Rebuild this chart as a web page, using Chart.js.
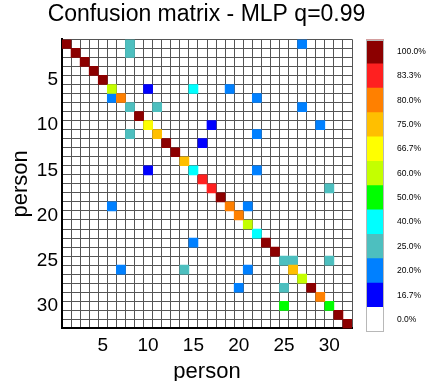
<!DOCTYPE html>
<html>
<head>
<meta charset="utf-8">
<script src="https://cdn.jsdelivr.net/npm/chart.js@4.4.1/dist/chart.umd.min.js"></script>
<style>
html,body{margin:0;padding:0;background:#fff;}
#wrap{position:relative;width:429px;height:381px;}
#matrix{position:absolute;left:0;top:0;}
#colorbar{position:absolute;left:355px;top:0;}
</style>
</head>
<body>
<div id="wrap">
<canvas id="matrix" width="413" height="381"></canvas>
<canvas id="colorbar" width="74" height="381"></canvas>
</div>
<script>
// people (rows = true, columns = predicted)
var people = ['1','2','3','4','5','6','7','8','9','10','11','12','13','14','15','16',
  '17','18','19','20','21','22','23','24','25','26','27','28','29','30','31','32'];

// colour scale levels
var levels = [100, 83.3, 80, 75, 66.7, 60, 50, 40, 25, 20, 16.7, 0];
var levelLabels = ['100.0%','83.3%','80.0%','75.0%','66.7%','60.0%','50.0%','40.0%','25.0%','20.0%','16.7%','0.0%'];
var levelColors = ['#8c0000','#ff2020','#ff8000','#ffbf00','#ffff00','#c4ff00','#00ff00','#00ffff','#4dbfbf','#0080ff','#0000ff','#ffffff'];
var barUnits = [1,1,1,1,1,1,1,1,1,1,1,1];

// non-zero cells of the matrix
var cellRow = [1,1,1, 2,2, 3, 4, 5, 6,6,6,6, 7,7,7, 8,8,8, 9, 10,10,10, 11,11,11, 12,12, 13, 14,
  15,15,15, 16, 17,17, 18, 19,19,19, 20, 21, 22, 23,23, 24, 25,25,25, 26,26,26,26, 27, 28,28,28, 29, 30,30, 31, 32];
var cellCol = [1,8,27, 2,8, 3, 4, 5, 6,10,15,19, 6,7,22, 8,11,27, 9, 10,17,29, 8,11,22, 12,16, 13, 14,
  10,15,22, 16, 17,30, 18, 6,19,21, 20, 21, 22, 15,23, 24, 25,26,30, 7,14,21,26, 27, 20,25,28, 29, 25,30, 31, 32];
var cellPct = [100,25,20, 100,25, 100, 100, 100, 60,16.7,40,20, 20,80,20, 25,25,20, 100, 66.7,16.7,20, 25,75,20, 100,16.7, 100, 75,
  16.7,40,20, 83.3, 83.3,25, 100, 20,80,20, 80, 60, 40, 20,100, 100, 25,25,25, 20,25,20,75, 60, 20,25,100, 80, 50,50, 100, 100];

var fam = '"Liberation Sans", Arial, Helvetica, sans-serif';
Chart.defaults.font.family = fam;
Chart.defaults.color = '#000';

// one floating-bar dataset per colour level
var datasets = [];
levels.forEach(function(lv, k){
  if (lv === 0) return;
  var pts = [];
  for (var i = 0; i < cellRow.length; i++) {
    if (cellPct[i] === lv) pts.push({x: String(cellCol[i]), y: [cellRow[i] - 1, cellRow[i]]});
  }
  if (!pts.length) return;
  datasets.push({
    label: levelLabels[k], data: pts, backgroundColor: levelColors[k],
    borderWidth: 0, barPercentage: 1, categoryPercentage: 1, grouped: false,
    xAxisID: 'x', yAxisID: 'y'
  });
});

function every5(v) {
  var l = this.getLabelForValue(v);
  return Number(l) % 5 === 0 ? l : '';
}

new Chart(document.getElementById('matrix'), {
  type: 'bar',
  data: {labels: people, datasets: datasets},
  options: {
    responsive: false,
    animation: false,
    layout: {padding: {left: 0, right: 0, top: 0, bottom: 0}},
    plugins: {
      legend: {display: false},
      tooltip: {enabled: false},
      title: {
        display: true, text: 'Confusion matrix - MLP q=0.99', color: '#000',
        font: {size: 23, weight: 'normal', lineHeight: 1.1},
        padding: {top: 2, bottom: 12}
      }
    },
    scales: {
      x: {
        type: 'category', labels: people, offset: true, z: 1,
        grid: {
          offset: true, drawTicks: false,
          color: function(c){ return c.index === 32 ? '#000' : '#555'; },
          lineWidth: function(c){ return c.index === 32 ? 2 : 1; }
        },
        border: {display: true, color: '#000', width: 2},
        ticks: {autoSkip: false, maxRotation: 0, padding: 8, font: {size: 19, lineHeight: 1}, callback: every5},
        title: {display: true, text: 'person', font: {size: 22, lineHeight: 0.8}, padding: {top: 0, bottom: 0}}
      },
      y: {
        type: 'linear', min: 0, max: 32, reverse: true, z: 1, weight: 0,
        ticks: {display: false, stepSize: 1},
        grid: {drawTicks: false, color: function(c){ return c.index === 0 ? '#999' : '#555'; }},
        border: {display: true, color: '#000', width: 2}
      },
      yl: {
        type: 'category', labels: people, position: 'left', offset: true, weight: 1,
        grid: {display: false, drawTicks: false},
        border: {display: false},
        ticks: {autoSkip: false, padding: 4, font: {size: 19}, callback: every5},
        title: {display: true, text: 'person', font: {size: 22}, padding: {top: 8, bottom: 0}},
        afterFit: function(s){ s.width = 62; }
      },
      yr: {
        type: 'linear', position: 'right',
        ticks: {display: false}, grid: {display: false, drawTicks: false}, border: {display: false},
        afterFit: function(s){ s.width = 61; }
      }
    }
  }
});

// colour scale
var outline = {
  id: 'outline',
  afterDatasetsDraw: function(chart){
    var a = chart.chartArea, ctx = chart.ctx;
    ctx.save();
    ctx.strokeStyle = '#b8b8b8';
    ctx.lineWidth = 1;
    ctx.strokeRect(Math.round(a.left) + 0.5, Math.round(a.top) + 0.5, Math.round(a.right - a.left) - 1, Math.round(a.bottom - a.top) - 1);
    ctx.restore();
  }
};

new Chart(document.getElementById('colorbar'), {
  type: 'bar',
  data: {
    labels: levelLabels,
    datasets: [{data: barUnits, backgroundColor: levelColors, borderWidth: 0, barPercentage: 1, categoryPercentage: 1}]
  },
  options: {
    indexAxis: 'y',
    responsive: false,
    animation: false,
    layout: {padding: {left: 11, right: 0, top: 39.5, bottom: 49.3}},
    plugins: {legend: {display: false}, tooltip: {enabled: false}},
    scales: {
      x: {display: false, min: 0, max: 1},
      y: {
        position: 'right',
        grid: {display: false, drawTicks: false},
        border: {display: false},
        ticks: {padding: 13, font: {size: 8.5}, color: '#000'},
        afterFit: function(s){ s.width = 45; }
      }
    }
  },
  plugins: [outline]
});
</script>
</body>
</html>
